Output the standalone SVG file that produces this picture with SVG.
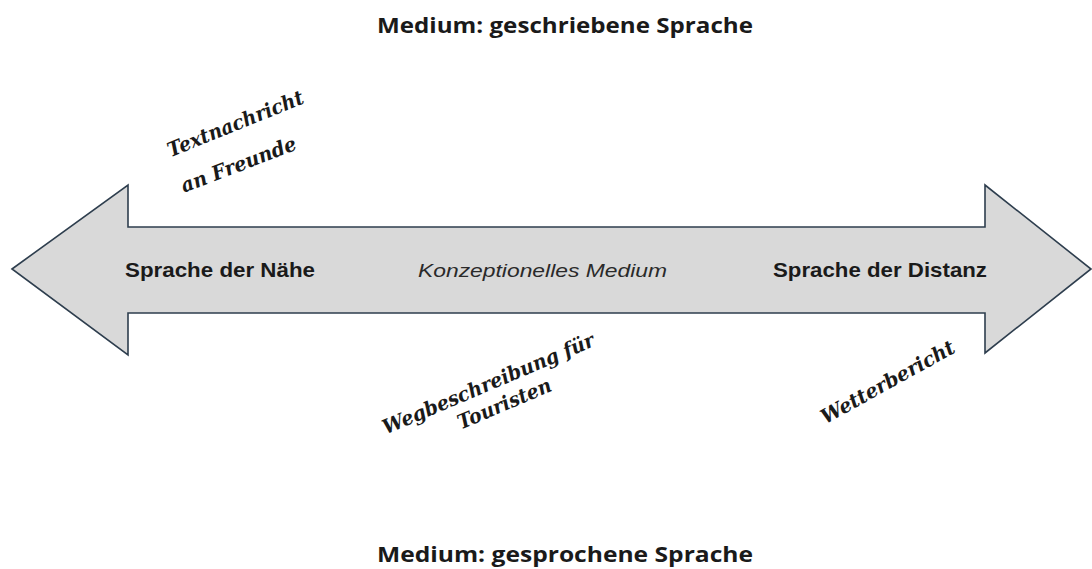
<svg xmlns="http://www.w3.org/2000/svg" width="1092" height="569" viewBox="0 0 1092 569">
  <style>
    .title { font-family: "Open Sans", "Liberation Sans", sans-serif; font-weight: 700; font-size: 22px; fill: #1a1a1a; }
    .pole { font-family: "Liberation Sans", Arial, sans-serif; font-weight: 700; font-size: 21px; fill: #1a1a1a; }
    .mid { font-family: "Liberation Sans", Arial, sans-serif; font-style: italic; font-size: 18px; fill: #2a2a2a; }
    .hand { font-family: "DejaVu Serif", "Liberation Serif", serif; font-style: italic; font-weight: 700; font-size: 20px; fill: #1a1a1a; }
    .arrow { fill: #d9d9d9; stroke: #2e3e4e; stroke-width: 1.6; stroke-linejoin: miter; }
  </style>
  <rect width="1092" height="569" fill="#ffffff"/>
  <g id="connectors">
    <path class="arrow" d="M12,269 L128,185 L128,227 L985,227 L985,185 L1091,269 L985,353 L985,313 L128,313 L128,355 Z"/>
  </g>
  <g id="title-top">
    <text class="title" x="377" y="33" textLength="376" lengthAdjust="spacingAndGlyphs">Medium: geschriebene Sprache</text>
  </g>
  <g id="title-bottom">
    <text class="title" x="377" y="562" textLength="376" lengthAdjust="spacingAndGlyphs">Medium: gesprochene Sprache</text>
  </g>
  <g id="node-naehe">
    <text class="pole" x="125" y="277" textLength="190" lengthAdjust="spacingAndGlyphs">Sprache der Nähe</text>
  </g>
  <g id="node-medium">
    <text class="mid" x="418" y="277" textLength="249" lengthAdjust="spacingAndGlyphs">Konzeptionelles Medium</text>
  </g>
  <g id="node-distanz">
    <text class="pole" x="773" y="277" textLength="214" lengthAdjust="spacingAndGlyphs">Sprache der Distanz</text>
  </g>
  <g id="node-textnachricht" class="hand" text-anchor="middle">
    <text x="0" y="0" transform="translate(238,130) rotate(-22)" textLength="145" lengthAdjust="spacingAndGlyphs">Textnachricht</text>
    <text x="0" y="0" transform="translate(241,171) rotate(-21)" textLength="122" lengthAdjust="spacingAndGlyphs">an Freunde</text>
  </g>
  <g id="node-wegbeschreibung" class="hand" text-anchor="middle">
    <text x="0" y="0" transform="translate(491,390) rotate(-23)" textLength="228" lengthAdjust="spacingAndGlyphs">Wegbeschreibung für</text>
    <text x="0" y="0" transform="translate(507,410) rotate(-23)" textLength="100" lengthAdjust="spacingAndGlyphs">Touristen</text>
  </g>
  <g id="node-wetterbericht" class="hand" text-anchor="middle">
    <text x="0" y="0" transform="translate(891,388) rotate(-29)" textLength="150" lengthAdjust="spacingAndGlyphs">Wetterbericht</text>
  </g>
</svg>
